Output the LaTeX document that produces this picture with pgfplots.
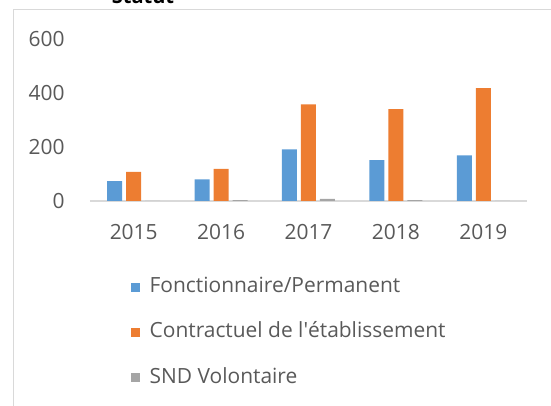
\documentclass[border=0pt]{standalone}
\usepackage{pgfplots}
\pgfplotsset{compat=1.18}
\usepackage{fontspec}
\setmainfont{Open Sans}
\definecolor{cblue}{HTML}{5B9BD5}
\definecolor{corange}{HTML}{ED7D31}
\definecolor{cgray}{HTML}{A5A5A5}
\definecolor{txt}{HTML}{595959}
\definecolor{frame}{HTML}{D9D9D9}
\begin{document}
\begin{tikzpicture}[x=0.75pt,y=0.75pt]
\useasboundingbox (0,0) rectangle (551,406);
% chart frame (cut at right and bottom)
\draw[frame, line width=1.1pt] (13.5,-5) -- (13.5,396.5) -- (560,396.5);
% title, mostly cut off at the top
\node[anchor=base, font=\bfseries\fontsize{15}{18}\selectfont] at (143,402) {Statut};
\begin{axis}[
    at={(67.5pt,153.75pt)}, anchor=south west,
    scale only axis, width=327.75pt, height=121.5pt,
    xmin=-0.5, xmax=4.5, ymin=0, ymax=600,
    ybar=3pt, bar width=11.25pt,
    axis x line*=bottom, axis y line*=left,
    x axis line style={frame, line width=1pt, -},
    y axis line style={draw=none},
    major tick length=0pt,
    xtick={0,1,2,3,4},
    xticklabels={2015,2016,2017,2018,2019},
    ytick={0,200,400,600},
    /pgf/number format/assume math mode=true,
    tick label style={font=\fontsize{15.7}{18}\selectfont, text=txt},
    yticklabel style={anchor=east, xshift=-15.5pt},
    xticklabel style={anchor=north, yshift=-14pt},
    legend style={at={(0.094,-0.475)}, anchor=north west, draw=none, fill=none,
        inner sep=0pt, row sep=19.8pt,
        font=\fontsize{15.7}{18}\selectfont, text=txt,
        nodes={inner sep=0pt, text height=11pt, text depth=3pt}},
    legend cell align=left,
    legend image code/.code={\fill[#1] (0pt,-3.4pt) rectangle (6.75pt,3.4pt);},
]
\addplot[fill=cblue, draw=none] coordinates {(0,74)(1,80)(2,191)(3,151)(4,169)};
\addplot[fill=corange, draw=none] coordinates {(0,108)(1,119)(2,358)(3,340)(4,418)};
\addplot[fill=cgray, draw=none] coordinates {(0,0)(1,3)(2,8)(3,3)(4,0)};
\legend{\hspace{7pt}Fonctionnaire/Permanent,\hspace{7pt}Contractuel de l\textquotesingle établissement,\hspace{7pt}SND Volontaire}
\end{axis}
\end{tikzpicture}
\end{document}
